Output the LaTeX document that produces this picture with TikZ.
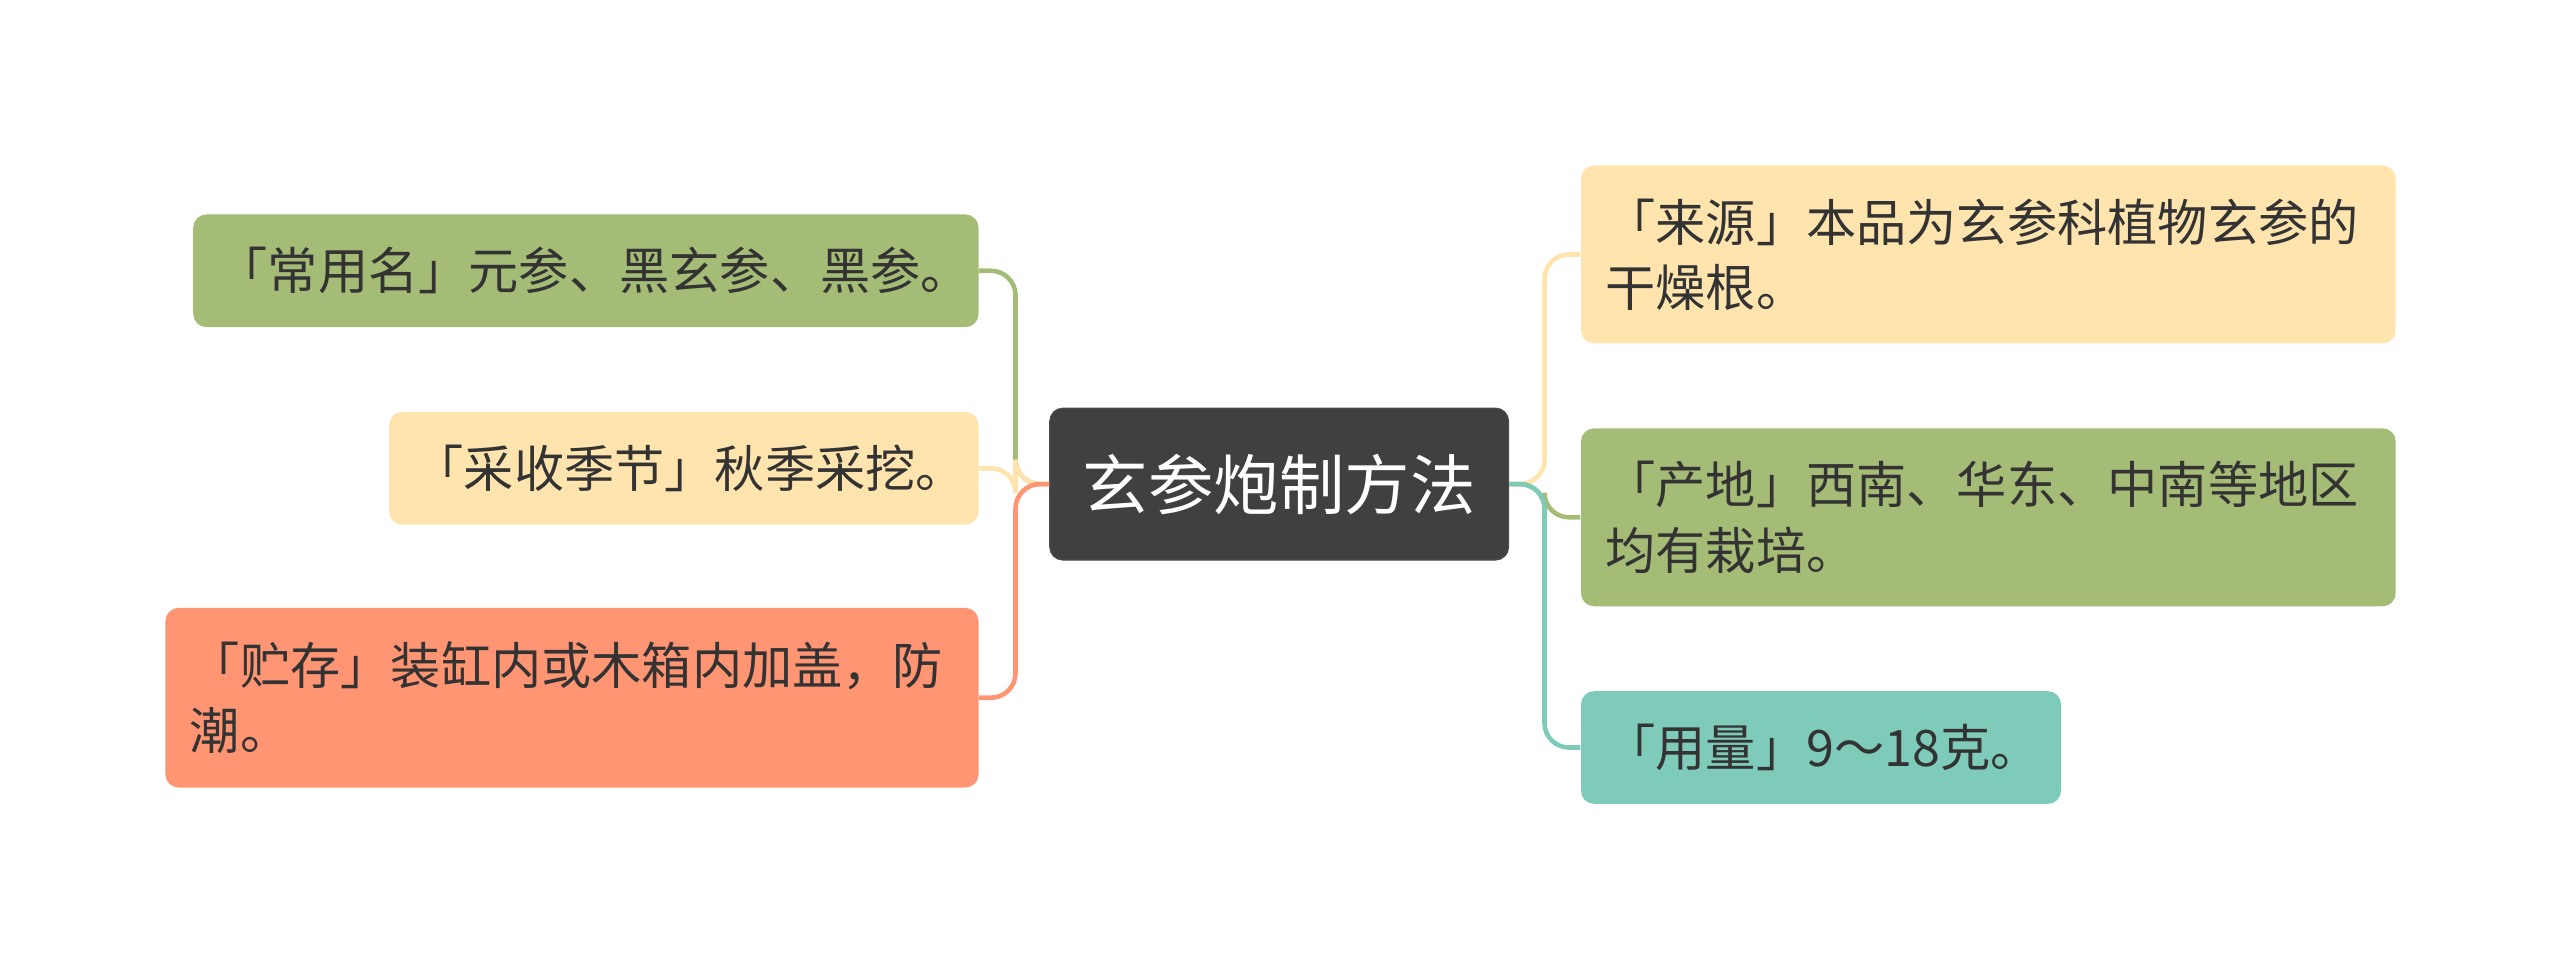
\documentclass[tikz,border=0pt]{standalone}
\usepackage{fontspec}
\setmainfont{Noto Sans CJK SC}
\usetikzlibrary{positioning}
\definecolor{rootfill}{HTML}{404040}
\definecolor{greenfill}{HTML}{A5BC77}
\definecolor{yellowfill}{HTML}{FFE4AE}
\definecolor{salmonfill}{HTML}{FF9573}
\definecolor{tealfill}{HTML}{7FCBBA}
\definecolor{txt}{HTML}{333333}
\tikzset{
  topic/.style={rectangle, rounded corners=0.16cm, anchor=north west, align=left,
    inner xsep=0.3cm, inner ysep=0pt, text=txt,
    font=\fontsize{17.5pt}{22.7pt}\selectfont},
  link/.style={line width=1.6pt, rounded corners=0.3cm}
}
\begin{document}
\begin{tikzpicture}
\useasboundingbox (0,0) rectangle (31.36,-11.86);
% central topic
\node[rectangle, rounded corners=0.16cm, fill=rootfill, draw=black!70, text=white,
  minimum width=5.62cm, minimum height=1.86cm,
  font=\fontsize{22.8pt}{27pt}\selectfont] (root) at (15.67,-5.93) {玄参炮制方法};
% left side
\node[topic, fill=greenfill, text width=9.02cm, minimum height=1.38cm] (cym) at (2.36,-2.62) {「常用名」元参、黑玄参、黑参。};
\node[topic, fill=yellowfill, text width=6.62cm, minimum height=1.38cm] (cs) at (4.76,-5.04) {「采收季节」秋季采挖。};
\node[topic, fill=salmonfill, text width=9.36cm, minimum height=2.2cm] (zc) at (2.02,-7.44) {「贮存」装缸内或木箱内加盖，防\\潮。};
% right side
\node[topic, fill=yellowfill, text width=9.38cm, minimum height=2.18cm] (ly) at (19.36,-2.02) {「来源」本品为玄参科植物玄参的\\干燥根。};
\node[topic, fill=greenfill, text width=9.38cm, minimum height=2.18cm] (cd) at (19.36,-5.24) {「产地」西南、华东、中南等地区\\均有栽培。};
\node[topic, fill=tealfill, text width=5.28cm, minimum height=1.38cm] (yl) at (19.36,-8.46) {「用量」9～18克。};
\coordinate (jl) at (12.44,0);
\coordinate (jr) at (18.92,0);
% connectors
\draw[link, greenfill] (root.west) -- (root.west -| jl) |- (cym.east);
\draw[link, yellowfill] (root.west) -- (root.west -| jl) |- (cs.east);
\draw[link, salmonfill] (root.west) -- (root.west -| jl) |- (zc.east);
\draw[link, yellowfill] (root.east) -- (root.east -| jr) |- (ly.west);
\draw[link, greenfill] (root.east) -- (root.east -| jr) |- (cd.west);
\draw[link, tealfill] (root.east) -- (root.east -| jr) |- (yl.west);
\end{tikzpicture}
\end{document}
